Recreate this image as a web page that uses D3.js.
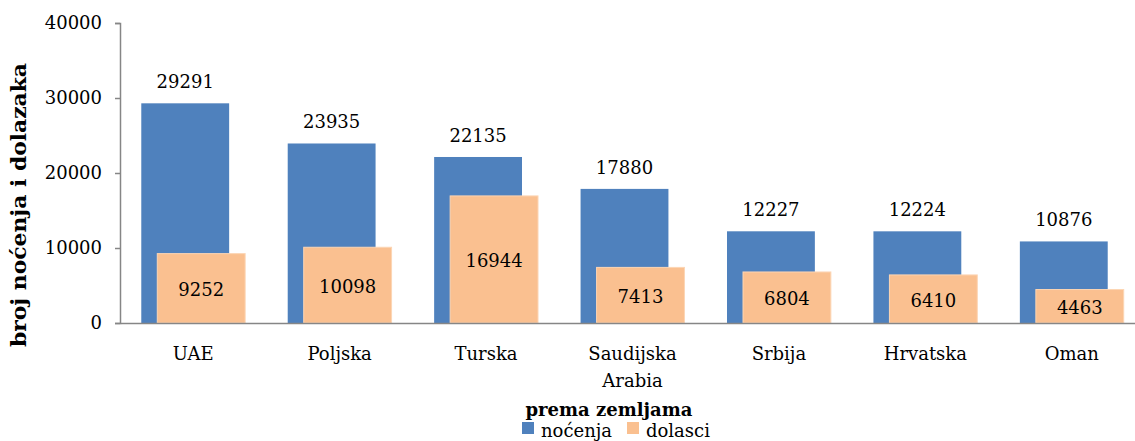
<!DOCTYPE html>
<html>
<head>
<meta charset="utf-8">
<script src="https://cdn.jsdelivr.net/npm/d3@7"></script>
<style>
  body { margin: 0; background: #fff; }
  text { font-family: "DejaVu Serif", serif; fill: #000; }
</style>
</head>
<body>
<div id="chart"></div>
<script>
(function () {
    const countries = ["UAE", "Poljska", "Turska", "Saudijska Arabia", "Srbija", "Hrvatska", "Oman"];
    const nocenja = [29291, 23935, 22135, 17880, 12227, 12224, 10876];
    const dolasci = [9252, 10098, 16944, 7413, 6804, 6410, 4463];
    const yTicks = [0, 10000, 20000, 30000, 40000];

    const width = 1135, height = 441;
    const margin = { top: 23, left: 120, bottom: 118 };
    const plotRight = 1145; // last band is cut by the window edge

    const svg = d3.select("#chart")
        .append("svg")
        .attr("width", width)
        .attr("height", height);

    const xPositionScale = d3.scaleBand()
        .domain(countries)
        .range([margin.left, plotRight]);
    const yPositionScale = d3.scaleLinear()
        .domain([0, 40000])
        .range([height - margin.bottom, margin.top]);

    const bw = xPositionScale.bandwidth() * 0.6;
    const offset = 16;
    const blueColor = "#4f81bd", orangeColor = "#fac090";

    // blue bars (nocenja)
    svg.selectAll(".bar-n")
        .data(nocenja)
        .enter()
        .append("rect")
        .attr("class", "bar-n")
        .attr("x", (d, i) => xPositionScale(countries[i]) + xPositionScale.bandwidth() / 2 - (bw + offset) / 2)
        .attr("y", d => yPositionScale(d))
        .attr("width", bw)
        .attr("height", d => yPositionScale(0) - yPositionScale(d))
        .attr("fill", blueColor);

    // orange bars (dolasci) overlap on top
    svg.selectAll(".bar-d")
        .data(dolasci)
        .enter()
        .append("rect")
        .attr("class", "bar-d")
        .attr("x", (d, i) => xPositionScale(countries[i]) + xPositionScale.bandwidth() / 2 - (bw + offset) / 2 + offset)
        .attr("y", d => yPositionScale(d))
        .attr("width", bw)
        .attr("height", d => yPositionScale(0) - yPositionScale(d))
        .attr("fill", orangeColor)
        .attr("stroke", "#fcd5b4")
        .attr("stroke-width", 1);

    // value labels
    svg.selectAll(".lab-n")
        .data(nocenja)
        .enter()
        .append("text")
        .attr("x", (d, i) => xPositionScale(countries[i]) + xPositionScale.bandwidth() / 2 - offset / 2)
        .attr("y", d => yPositionScale(d) - 15)
        .attr("text-anchor", "middle")
        .style("font-size", "18px")
        .text(d => d);

    svg.selectAll(".lab-d")
        .data(dolasci)
        .enter()
        .append("text")
        .attr("x", (d, i) => xPositionScale(countries[i]) + xPositionScale.bandwidth() / 2 + offset / 2)
        .attr("y", d => (yPositionScale(d) + yPositionScale(0)) / 2 + 8)
        .attr("text-anchor", "middle")
        .style("font-size", "18px")
        .text(d => d);

    // y axis
    const yAxis = d3.axisLeft(yPositionScale).tickValues(yTicks).tickSize(5).tickPadding(13).tickFormat(d3.format("d"));
    const yg = svg.append("g")
        .attr("class", "axis y-axis")
        .attr("transform", "translate(" + margin.left + ",0)")
        .call(yAxis);
    yg.selectAll("text").style("font-size", "18px").style("font-family", "DejaVu Serif, serif").attr("fill", "#000");
    yg.selectAll("line, path").attr("stroke", "#868686").attr("stroke-width", 1.5);

    // x axis
    const xAxis = d3.axisBottom(xPositionScale).tickSize(0).tickFormat("");
    const xg = svg.append("g")
        .attr("class", "axis x-axis")
        .attr("transform", "translate(0," + yPositionScale(0) + ")")
        .call(xAxis);
    xg.selectAll("path").attr("stroke", "#868686").attr("stroke-width", 1.5);

    // category labels, wrapped on space only for two-word names
    countries.forEach(function (c) {
        const words = c.split(" ");
        const t = svg.append("text")
            .attr("text-anchor", "middle")
            .style("font-size", "18px");
        words.forEach(function (w, j) {
            t.append("tspan")
                .attr("x", xPositionScale(c) + xPositionScale.bandwidth() / 2)
                .attr("y", 360 + j * 27)
                .text(w);
        });
    });

    // y title
    svg.append("text")
        .attr("transform", "translate(26," + 205 + ") rotate(-90)")
        .attr("text-anchor", "middle")
        .attr("textLength", 284)
        .attr("lengthAdjust", "spacingAndGlyphs")
        .style("font-size", "20px")
        .style("font-weight", "bold")
        .text("broj noćenja i dolazaka");

    // x title
    svg.append("text")
        .attr("x", 609)
        .attr("y", 416)
        .attr("text-anchor", "middle")
        .style("font-size", "18px")
        .style("font-weight", "bold")
        .text("prema zemljama");

    // legend
    const legend = [
        { name: "noćenja", color: blueColor, x: 522 },
        { name: "dolasci", color: orangeColor, x: 627 }
    ];
    legend.forEach(function (l) {
        svg.append("rect")
            .attr("x", l.x).attr("y", 422)
            .attr("width", 12).attr("height", 12)
            .attr("fill", l.color);
        svg.append("text")
            .attr("x", l.x + 19).attr("y", 437)
            .style("font-size", "18px")
            .text(l.name);
    });
})()
</script>
</body>
</html>
